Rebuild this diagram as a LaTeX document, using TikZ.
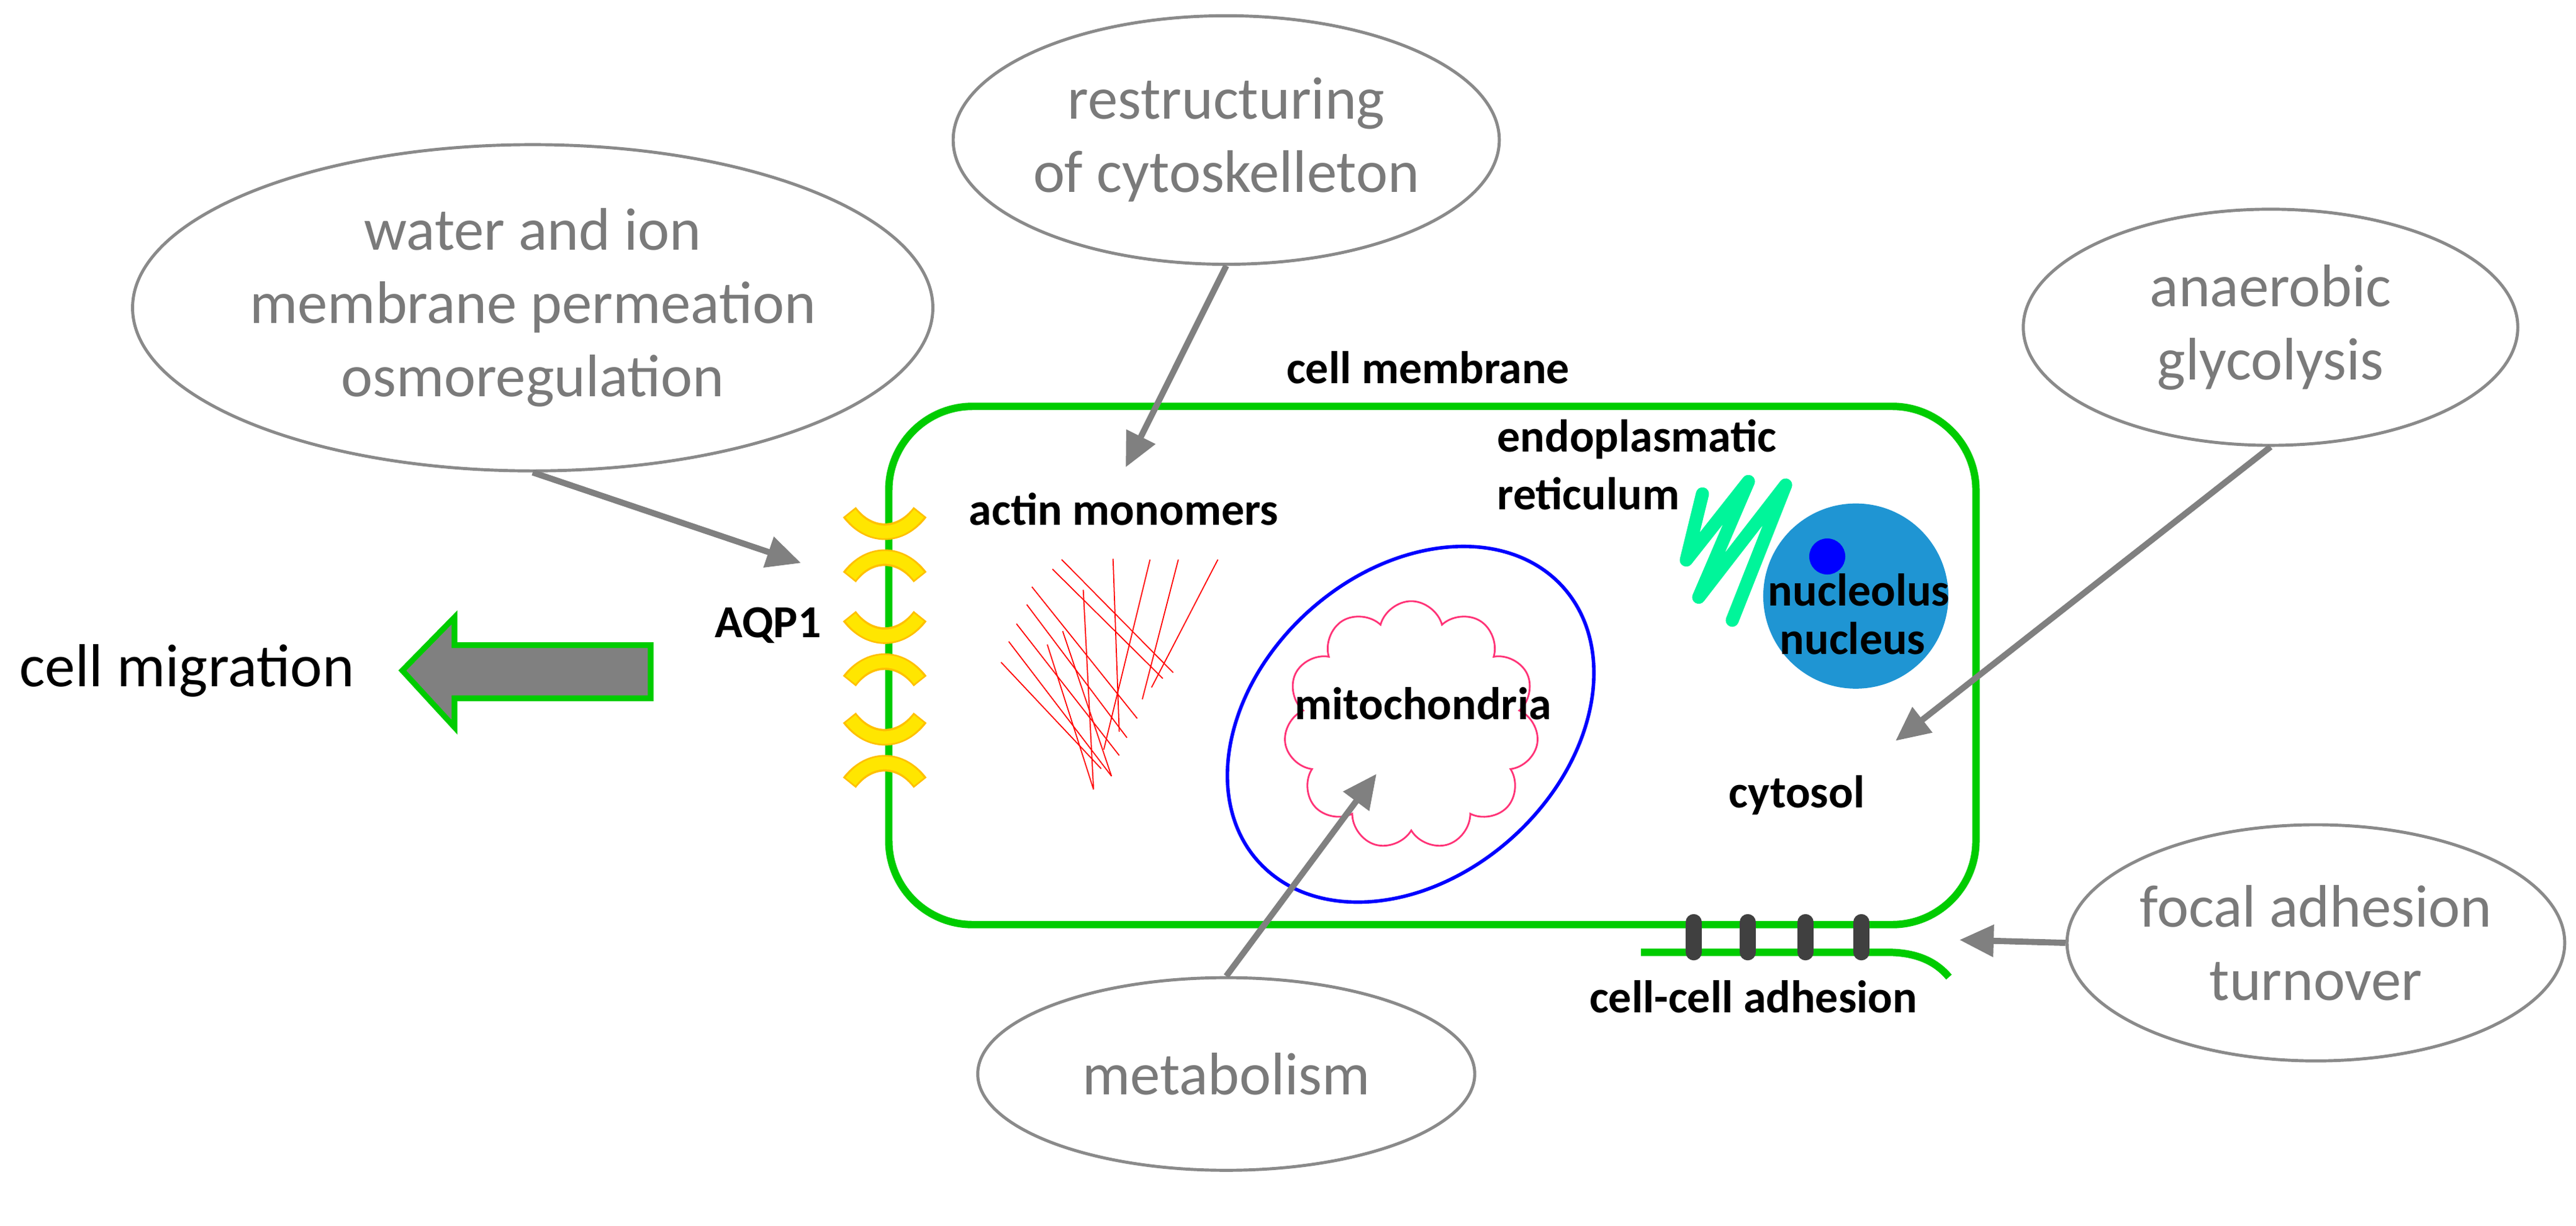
\documentclass[tikz,border=0pt]{standalone}
\usepackage{fontspec}
\setmainfont{Carlito}
\usetikzlibrary{positioning,shapes.geometric,shapes.symbols,arrows.meta}
\definecolor{cellgreen}{HTML}{00CC00}
\definecolor{ergreen}{HTML}{00F59A}
\definecolor{ovalgray}{HTML}{8A8A8A}
\definecolor{txtgray}{HTML}{7A7A7A}
\definecolor{arrgray}{HTML}{808080}
\definecolor{nucblue}{HTML}{1F95D3}
\definecolor{mitopink}{HTML}{FF3377}
\definecolor{aqpyellow}{HTML}{FFE600}
\definecolor{aqporange}{HTML}{FFC000}
\definecolor{bargray}{HTML}{404040}

\tikzset{
  oval/.style={ellipse, draw=ovalgray, line width=1.4pt, inner sep=0pt, align=center,
    text=txtgray, font=\fontsize{27.5}{33.6}\selectfont},
  lbl/.style={font=\bfseries\fontsize{21}{26.5}\selectfont, inner sep=0pt},
  push/.style={draw=arrgray, line width=2.8pt, -{Triangle[length=0.55cm,width=0.5cm]}},
}

\begin{document}
\begin{tikzpicture}[x=0.01cm, y=-0.009508cm]
	\useasboundingbox (0,0) rectangle (4149,2075.1);
	% outer processes
	\node[oval, minimum width=10.42cm, minimum height=5.25cm] (wat) at (858,521) {water and ion\\membrane permeation\\osmoregulation};
	\node[oval, minimum width=8.0cm, minimum height=4.0cm] (rst) at (1975,237) {restructuring\\of cytoskelleton};
	\node[oval, minimum width=7.96cm, minimum height=3.8cm] (gly) at (3657,554) {anaerobic\\glycolysis};
	\node[oval, minimum width=7.98cm, minimum height=3.8cm] (foc) at (3730,1596) {focal adhesion\\turnover};
	\node[oval, minimum width=8.0cm, minimum height=3.1cm] (met) at (1975,1818) {metabolism};
	% cell
	\node[draw=cellgreen, line width=3.4pt, rounded corners=1.35cm, minimum width=17.5cm, minimum height=8.34cm] (cell) at (2307,1126.5) {};
	\node[lbl] (mem) at (2300,622) {cell membrane};
	\node[lbl] (cyt) at (2894,1346) {cytosol};
	% aquaporins
	\foreach \y in {889,1065,1237} {
		\draw[aqporange, line width=7.6pt] (1368,\y-22) .. controls (1400,\y+22) and (1450,\y+22) .. (1482,\y-22);
		\draw[aqpyellow, line width=5.8pt] (1370,\y-20) .. controls (1400,\y+22) and (1450,\y+22) .. (1480,\y-20);
		\draw[aqporange, line width=7.6pt] (1368,\y+88) .. controls (1400,\y+44) and (1450,\y+44) .. (1482,\y+88);
		\draw[aqpyellow, line width=5.8pt] (1370,\y+86) .. controls (1400,\y+44) and (1450,\y+44) .. (1480,\y+86);
	}
	\node[lbl] (aqp) at (1237,1059) {AQP1};
	% actin
	\node[lbl] (act) at (1810,862) {actin monomers};
	\begin{scope}[shift={(1302,788)}, x=0.00827cm, y=-0.00476cm, red, line width=0.5pt]
		\foreach \a/\b/\c/\d in {493/318/710/700, 475/350/690/720, 435/410/640/855, 425/470/620/920,
			405/535/605/980, 390/595/590/1050, 375/665/570/1025, 593/315/605/900, 665/318/575/960,
			720/318/650/790, 797/318/668/750, 535/420/555/1095, 495/560/590/1050, 465/605/555/1095}
			\draw (\a,\b) -- (\c,\d);
	\end{scope}
	% mitochondria
	\draw[blue, line width=1.6pt, rotate around={42:(2272,1226)}] (2272,1226) ellipse [x radius=3.3cm, y radius=2.45cm];
	\node[cloud, cloud puffs=11, aspect=1, draw=mitopink, line width=0.8pt, minimum width=4.1cm, minimum height=4.0cm] (mito) at (2273,1228) {};
	\node[lbl] (mtl) at (2292,1191) {mitochondria};
	% endoplasmatic reticulum and nucleus
	\node[lbl, align=left, anchor=west] (er) at (2411,787) {endoplasmatic\\reticulum};
	\draw[ergreen, line width=6pt, line cap=round, line join=round] (2742,836) -- (2716,948) -- (2816,815) -- (2736,1011) -- (2876,821) -- (2790,1050);
	\node[circle, fill=nucblue, minimum size=2.98cm, inner sep=0pt] (nuc) at (2989,1009) {};
	\node[circle, fill=blue, minimum size=0.58cm, inner sep=0pt] (ncl) at (2943,942) {};
	\node[lbl] (ncll) at (2994,999) {nucleolus};
	\node[lbl] (nucl) at (2984,1081) {nucleus};
	% cell-cell adhesion
	\draw[cellgreen, line width=3.4pt] (2643,1612) -- (3040,1612) .. controls (3090,1612) and (3120,1630) .. (3139,1654);
	\foreach \x in {2728,2815,2908,2998}
		\draw[bargray, line width=7.4pt, line cap=round] (\x,1561) -- (\x,1612);
	\node[lbl] (adh) at (2824,1687) {cell-cell adhesion};
	% migration
	\draw[fill=arrgray, draw=cellgreen, line width=2.6pt] (648,1135) -- (732,1045) -- (732,1092) -- (1048,1092) -- (1048,1182) -- (732,1182) -- (732,1231) -- cycle;
	\node[font=\fontsize{27.8}{34}\selectfont, inner sep=0pt] (mig) at (301,1135) {cell migration};
	% arrows
	\coordinate (pAqp) at (1290,953);
	\coordinate (pAct) at (1813,791);
	\coordinate (pCyt) at (3053,1254);
	\coordinate (pAdh) at (3156,1591);
	\coordinate (pMit) at (2217,1310);
	\draw[push] (wat.south) -- (pAqp);
	\draw[push] (rst.south) -- (pAct);
	\draw[push] (gly.south) -- (pCyt);
	\draw[push] (foc.west) -- (pAdh);
	\draw[push] (met.north) -- (pMit);
\end{tikzpicture}
\end{document}
